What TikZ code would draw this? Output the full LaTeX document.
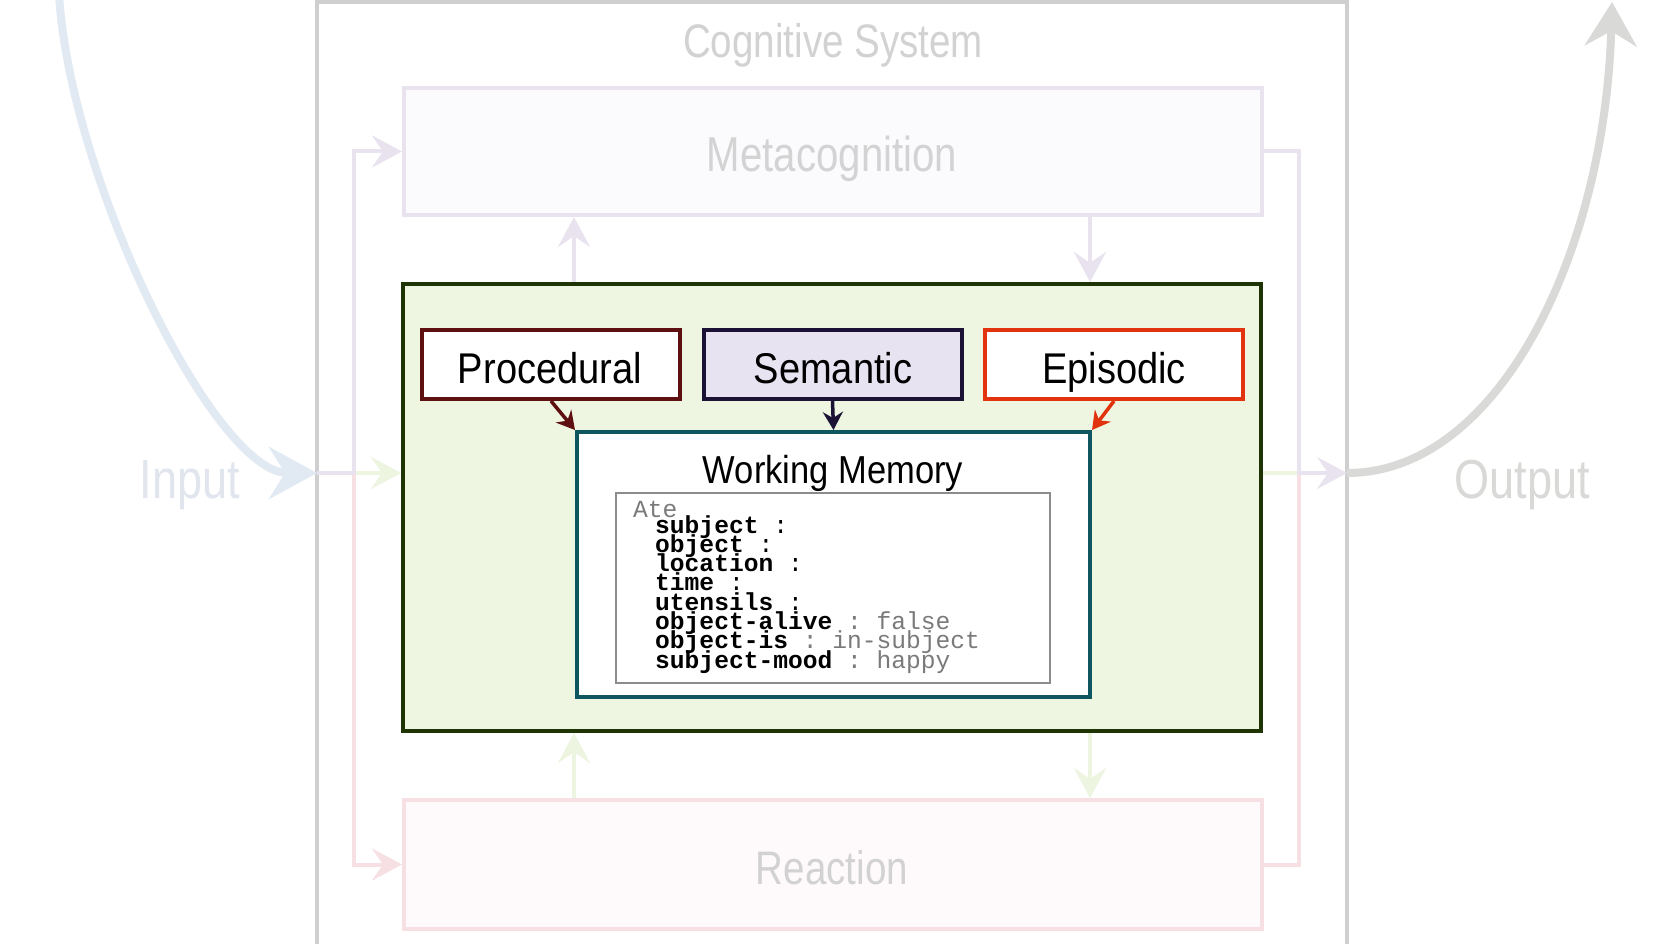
\documentclass[tikz,border=0pt]{standalone}
\usepackage{fontspec}
\usetikzlibrary{arrows.meta}
\newfontfamily\fadedfont[FakeStretch=0.82]{Liberation Sans}
\newfontfamily\boxfont[FakeStretch=0.885]{Liberation Sans}
\newfontfamily\codefont{Liberation Mono}

\definecolor{frameGray}{HTML}{CFCFCF}
\definecolor{metaFill}{HTML}{FBFAFD}
\definecolor{metaLine}{HTML}{E8E3EE}
\definecolor{reactFill}{HTML}{FEFAFB}
\definecolor{reactLine}{HTML}{F6E0E3}
\definecolor{greenFaint}{HTML}{EDF4E0}
\definecolor{modFill}{HTML}{EEF5E1}
\definecolor{modLine}{HTML}{1E3405}
\definecolor{procLine}{HTML}{5E0F0F}
\definecolor{semLine}{HTML}{1C1236}
\definecolor{semFill}{HTML}{E7E3F1}
\definecolor{epiLine}{HTML}{E2330F}
\definecolor{wmLine}{HTML}{0F5660}
\definecolor{inBlue}{HTML}{E1EAF3}
\definecolor{outGray}{HTML}{D9D9D7}
\definecolor{fadeText}{HTML}{D2D2D2}
\definecolor{inText}{HTML}{E0E5EE}
\definecolor{codeGray}{HTML}{7A7A7A}

\tikzset{
  fadedbox/.style={rectangle, line width=4pt, inner sep=0pt},
  membox/.style={rectangle, line width=4pt, fill=white, inner sep=0pt,
    minimum width=258pt, minimum height=69pt},
  fadedlabel/.style={anchor=base, inner sep=0pt, text=fadeText},
  boxlabel/.style={anchor=base, inner sep=0pt, text=black,
    font=\boxfont\fontsize{43}{46}\selectfont},
  faintarrow/.style={line width=4pt, -{Stealth[length=30pt,width=32pt,inset=11pt]}},
  faintline/.style={line width=4pt},
  memarrow/.style={line width=3.5pt, -{Stealth[length=18pt,width=20pt,inset=6pt]}},
  codeline/.style={anchor=base west, inner sep=0pt,
    font=\codefont\fontsize{24.6}{19.3}\selectfont},
}

\begin{document}
\begin{tikzpicture}[x=1pt,y=-1pt]
\useasboundingbox (0,0) rectangle (1664,944);
\clip (0,0) rectangle (1664,944);
\fill[white] (0,0) rectangle (1664,944);

% enclosing system frame (runs past the lower edge)
\draw[frameGray, line width=4pt] (317,960) -- (317,2) -- (1347,2) -- (1347,960);
\node[fadedlabel, font=\fadedfont\fontsize{47}{50}\selectfont] (systitle) at (833,58) {Cognitive System};

% faded outer layers
\node[fadedbox, draw=metaLine, fill=metaFill, minimum width=858pt, minimum height=127pt] (meta) at (833,151.5) {};
\node[fadedlabel, text=fadeText!95!metaLine, font=\fadedfont\fontsize{49}{52}\selectfont] (metatext) at (832,172) {Metacognition};
\node[fadedbox, draw=reactLine, fill=reactFill, minimum width=858pt, minimum height=129pt] (react) at (833,864.5) {};
\node[fadedlabel, font=\fadedfont\fontsize{47}{50}\selectfont] (reacttext) at (832,884) {Reaction};

% memory module
\node[rectangle, draw=modLine, fill=modFill, line width=4pt, inner sep=0pt,
      minimum width=858pt, minimum height=447pt] (module) at (832,507.5) {};

% junction points of the faded wiring
\coordinate (inp) at (317,473);
\coordinate (outp) at (1347,473);
\coordinate (lbus) at (354,473);
\coordinate (rbus) at (1299,473);
\coordinate (cL) at (574,0);
\coordinate (cR) at (1090,0);

% left side: input fans out to the three layers
\draw[faintarrow, greenFaint] (lbus) -- (module.west |- lbus);
\draw[faintarrow, reactLine] (inp) -- (lbus) |- (react.west);
\draw[faintarrow, metaLine] (inp) -- (lbus) |- (meta.west);

% right side: the three layers join to the output
\draw[faintline, greenFaint] (module.east |- rbus) -- (rbus);
\draw[faintline, reactLine] (react.east) -| (rbus);
\draw[faintarrow, metaLine] (meta.east) -| (rbus) -- (outp);

% vertical links between module and the outer layers
\draw[faintarrow, metaLine] (module.north -| cL) -- (meta.south -| cL);
\draw[faintarrow, metaLine] (meta.south -| cR) -- (module.north -| cR);
\draw[faintarrow, greenFaint] (react.north -| cL) -- (module.south -| cL);
\draw[faintarrow, greenFaint] (module.south -| cR) -- (react.north -| cR);

% input and output curves
\coordinate (inTop) at (59,-6);
\coordinate (outTop) at (1612,2);
\draw[inBlue, line width=8pt, -{Stealth[length=48pt,width=52pt,inset=16pt]}]
  (inTop) .. controls (70,180) and (215,473) .. (inp);
\draw[outGray, line width=8pt, -{Stealth[length=44pt,width=52pt,inset=15pt]}]
  (outp) .. controls (1500,473) and (1605,250) .. (outTop);
\node[fadedlabel, text=inText, font=\fadedfont\fontsize{55}{58}\selectfont] (intext) at (190,498) {Input};
\node[fadedlabel, text=outGray, font=\fadedfont\fontsize{55}{58}\selectfont] (outtext) at (1522,498) {Output};

% long-term memories
\node[membox, draw=procLine] (proc) at (551,364.5) {};
\node[membox, draw=semLine, fill=semFill] (sem) at (832.5,364.5) {};
\node[membox, draw=epiLine] (epi) at (1114,364.5) {};
\node[boxlabel] (proctext) at (550,383) {Procedural};
\node[boxlabel] (semtext) at (833,383) {Semantic};
\node[boxlabel] (epitext) at (1114,383) {Episodic};

% working memory
\node[rectangle, draw=wmLine, fill=white, line width=4pt, inner sep=0pt,
      minimum width=513pt, minimum height=265pt] (wm) at (833.5,564.5) {};
\node[boxlabel, font=\boxfont\fontsize{39}{42}\selectfont] (wmtext) at (833,483) {Working Memory};
\node[rectangle, draw=black!45, line width=1.5pt, fill=white, inner sep=0pt,
      minimum width=434pt, minimum height=190pt] (frame) at (833,588) {};

\draw[memarrow, procLine] (proc.south) -- (wm.north west);
\draw[memarrow, semLine] (sem.south) -- (wm.north);
\draw[memarrow, epiLine] (epi.south) -- (wm.north east);

% frame contents
\node[codeline, text=codeGray] (c0) at (633,517) {Ate};
\node[codeline] (c1) at (655,533.0) {\textbf{subject} :};
\node[codeline] (c2) at (655,552.3) {\textbf{object} :};
\node[codeline] (c3) at (655,571.6) {\textbf{location} :};
\node[codeline] (c4) at (655,590.9) {\textbf{time} :};
\node[codeline] (c5) at (655,610.2) {\textbf{utensils} :};
\node[codeline] (c6) at (655,629.5) {\textbf{object-alive}\ \textcolor{codeGray}{:\ false}};
\node[codeline] (c7) at (655,648.8) {\textbf{object-is}\ \textcolor{codeGray}{:\ in-subject}};
\node[codeline] (c8) at (655,668.1) {\textbf{subject-mood}\ \textcolor{codeGray}{:\ happy}};
\end{tikzpicture}
\end{document}
